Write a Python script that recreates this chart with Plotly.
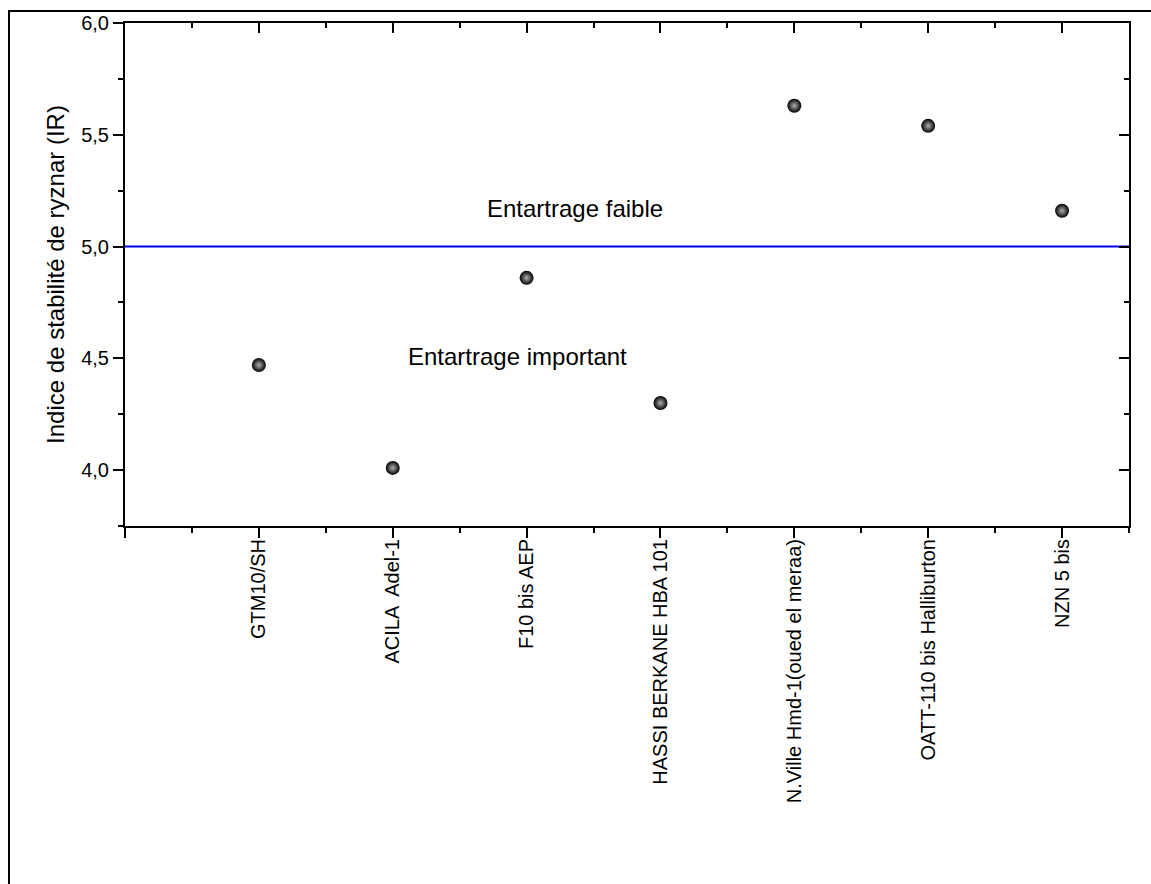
import plotly.graph_objects as go

categories = ["GTM10/SH", "ACILA  Adel-1", "F10 bis AEP", "HASSI BERKANE HBA 101",
              "N.Ville Hmd-1(oued el meraa)", "OATT-110 bis Halliburton", "NZN 5 bis"]
positions = [1, 2, 3, 4, 5, 6, 7]
ir_values = [4.47, 4.01, 4.86, 4.30, 5.63, 5.54, 5.16]
threshold = 5.0
y_ticks = [4.0, 4.5, 5.0, 5.5, 6.0]

FONT = "Liberation Sans, Arial, sans-serif"

fig = go.Figure()
fig.add_trace(go.Scatter(
    x=positions, y=ir_values, mode="markers",
    marker=dict(size=14, color="black",
                gradient=dict(type="radial", color="#b0b0b0"),
                line=dict(width=0)),
    showlegend=False, hoverinfo="x+y"))

fig.add_trace(go.Scatter(x=[0, 7.5], y=[threshold, threshold], mode="lines",
                         line=dict(color="#0000ff", width=2),
                         showlegend=False, hoverinfo="skip"))

# invisible traces so the mirror axes render
fig.add_trace(go.Scatter(x=[None], y=[None], xaxis="x2", yaxis="y", showlegend=False, hoverinfo="skip"))
fig.add_trace(go.Scatter(x=[None], y=[None], xaxis="x", yaxis="y2", showlegend=False, hoverinfo="skip"))

axis_common = dict(showgrid=False, zeroline=False, showline=True, linecolor="black",
                   linewidth=2, tickcolor="black", tickwidth=2)

fig.update_layout(
    width=1151, height=884,
    margin=dict(l=125, r=22, t=19, b=358),
    paper_bgcolor="white", plot_bgcolor="white",
    separators=", ",
    font=dict(family=FONT, color="black"),
    xaxis=dict(range=[0, 7.5], tickmode="array",
               tickvals=[0] + positions, ticktext=[""] + categories,
               tickangle=-90, ticks="outside", ticklen=10, ticklabelstandoff=-7,
               tickfont=dict(size=20, family=FONT),
               minor=dict(tickmode="array", tickvals=[0.5, 1.5, 2.5, 3.5, 4.5, 5.5, 6.5, 7.5],
                          ticks="outside", ticklen=5, tickwidth=2, tickcolor="black"),
               **axis_common),
    yaxis=dict(range=[3.75, 6.0], tickmode="array", tickvals=y_ticks,
               tickformat=".1f", ticks="outside", ticklen=10,
               tickfont=dict(size=20, family=FONT),
               title=dict(text="Indice de stabilité de ryznar (IR)", font=dict(size=24, family=FONT),
                          standoff=10),
               minor=dict(tickmode="array", tickvals=[3.75, 4.25, 4.75, 5.25, 5.75],
                          ticks="outside", ticklen=5, tickwidth=2, tickcolor="black"),
               **axis_common),
    xaxis2=dict(range=[0, 7.5], overlaying="x", side="top", anchor="y",
                tickmode="array", tickvals=[0] + positions, showticklabels=False,
                ticks="inside", ticklen=10,
                minor=dict(tickmode="array", tickvals=[0.5, 1.5, 2.5, 3.5, 4.5, 5.5, 6.5, 7.5],
                           ticks="inside", ticklen=5, tickwidth=2, tickcolor="black"),
                **axis_common),
    yaxis2=dict(range=[3.75, 6.0], overlaying="y", side="right", anchor="x",
                tickmode="array", tickvals=y_ticks, showticklabels=False,
                ticks="inside", ticklen=10,
                minor=dict(tickmode="array", tickvals=[3.75, 4.25, 4.75, 5.25, 5.75],
                           ticks="inside", ticklen=5, tickwidth=2, tickcolor="black"),
                **axis_common),
    annotations=[
        dict(x=3.36, y=5.17, xref="x", yref="y", text="Entartrage faible", showarrow=False,
             font=dict(size=24, family=FONT, color="black")),
        dict(x=2.935, y=4.51, xref="x", yref="y", text="Entartrage important", showarrow=False,
             font=dict(size=24, family=FONT, color="black")),
    ],
    shapes=[
        dict(type="rect", xref="paper", yref="paper",
             x0=(9 - 125) / 1004, x1=1.2, y0=-0.9, y1=(526 - 7) / 507,
             line=dict(color="black", width=2), fillcolor="rgba(0,0,0,0)", layer="below"),
    ],
)

fig.write_html("out.html")
